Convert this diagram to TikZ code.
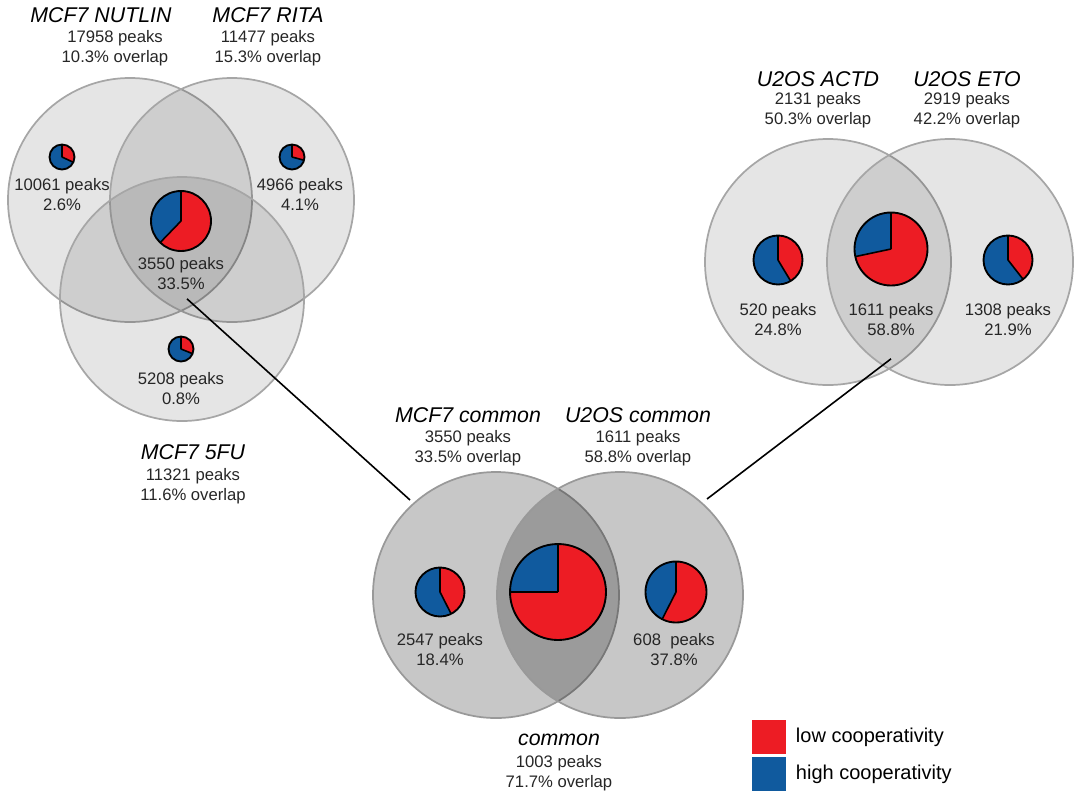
\documentclass[tikz,border=0pt]{standalone}
\usepackage{fontspec}
\setmainfont{Liberation Sans}
\usetikzlibrary{positioning}
\definecolor{lowc}{RGB}{237,28,36}
\definecolor{highc}{RGB}{16,90,158}
% pie: center, radius, angle (clockwise from top) where red part ends
\newcommand{\coopPie}[3]{%
  \fill[highc] (#1) circle (#2);
  \fill[lowc] (#1) -- ++(-90:#2) arc (-90:-#3:#2) -- cycle;
  \draw[line width=1.2] (#1) -- ++(-90:#2) (#1) -- ++(-#3:#2);
  \draw[line width=1.4] (#1) circle (#2);}
\begin{document}
\begin{tikzpicture}[
    x=0.75pt, y=-0.75pt,
    set/.style={draw=black!35, line width=1.3, fill=black, fill opacity=0.1},
    darkset/.style={draw=black!40, line width=1.3, fill=black, fill opacity=0.22},
    title/.style={font=\fontsize{16}{18}\selectfont\itshape},
    info/.style={font=\fontsize{12.5}{15}\selectfont, align=center, text=black!85},
    legend/.style={font=\fontsize{15}{17}\selectfont},
    link/.style={line width=1.2}
]
    \useasboundingbox (0,0) rectangle (1081,800);

    % === MCF7 three-way Venn ===
    \draw[set] (130,200) circle (122);
    \draw[set] (232,200) circle (122);
    \draw[set] (182,299) circle (122);
    \coopPie{62,157}{12.5}{-25}
    \coopPie{292,157}{12.5}{-15}
    \coopPie{181,221}{30}{-134}
    \coopPie{181,349}{12.5}{-22}
    \node[info] (nutlinOnly) at (62,195) {10061 peaks\\2.6\%};
    \node[info] (ritaOnly) at (300,195) {4966 peaks\\4.1\%};
    \node[info] (mcfCore) at (181,274) {3550 peaks\\33.5\%};
    \node[info] (fuOnly) at (181,389) {5208 peaks\\0.8\%};

    \node[title] (nutlin) at (101,15) {MCF7 NUTLIN};
    \node[info] (nutlinInfo) at (115,48) {17958 peaks\\10.3\% overlap};
    \node[title] (rita) at (268,15) {MCF7 RITA};
    \node[info] (ritaInfo) at (268,48) {11477 peaks\\15.3\% overlap};
    \node[title] (fu) at (193,452) {MCF7 5FU};
    \node[info] (fuInfo) at (193,486) {11321 peaks\\11.6\% overlap};

    % === U2OS two-way Venn ===
    \draw[set] (828,262) circle (123);
    \draw[set] (950,262) circle (123);
    \coopPie{778,260}{24.5}{-59}
    \coopPie{891,249}{36.5}{-168}
    \coopPie{1008,260}{24.5}{-52}
    \node[info] (actdOnly) at (778,320) {520 peaks\\24.8\%};
    \node[info] (uCore) at (891,320) {1611 peaks\\58.8\%};
    \node[info] (etoOnly) at (1008,320) {1308 peaks\\21.9\%};

    \node[title] (actd) at (818,79) {U2OS ACTD};
    \node[info] (actdInfo) at (818,110) {2131 peaks\\50.3\% overlap};
    \node[title] (eto) at (967,79) {U2OS ETO};
    \node[info] (etoInfo) at (967,110) {2919 peaks\\42.2\% overlap};

    % === common Venn ===
    \draw[darkset] (496,595) circle (123);
    \draw[darkset] (620,595) circle (123);
    \coopPie{440,592}{24.5}{-63}
    \coopPie{558,592}{48}{-180}
    \coopPie{676,592}{30.5}{-117}
    \node[info] (mcfOnly) at (440,650) {2547 peaks\\18.4\%};
    \node[info] (uOnly) at (674,650) {608~ peaks\\37.8\%};

    \node[title] (mcfCommon) at (468,415) {MCF7 common};
    \node[info] (mcfCommonInfo) at (468,448) {3550 peaks\\33.5\% overlap};
    \node[title] (uCommon) at (638,415) {U2OS common};
    \node[info] (uCommonInfo) at (638,448) {1611 peaks\\58.8\% overlap};
    \node[title] (common) at (559,740) {common};
    \node[info] (commonInfo) at (559,773) {1003 peaks\\71.7\% overlap};

    % === links ===
    \coordinate (mcfEnd) at (410,500);
    \coordinate (uEnd) at (707,499);
    \draw[link] (mcfCore.south) ++(6,4) -- (mcfEnd);
    \draw[link] (uCore.south) ++(0,18) -- (uEnd);

    % === legend ===
    \node[fill=lowc, minimum size=25pt, inner sep=0pt] (lowBox) at (769,737) {};
    \node[fill=highc, minimum size=25pt, inner sep=0pt] (highBox) at (769,774) {};
    \node[legend, right=4pt of lowBox] {low cooperativity};
    \node[legend, right=4pt of highBox] {high cooperativity};
\end{tikzpicture}
\end{document}
